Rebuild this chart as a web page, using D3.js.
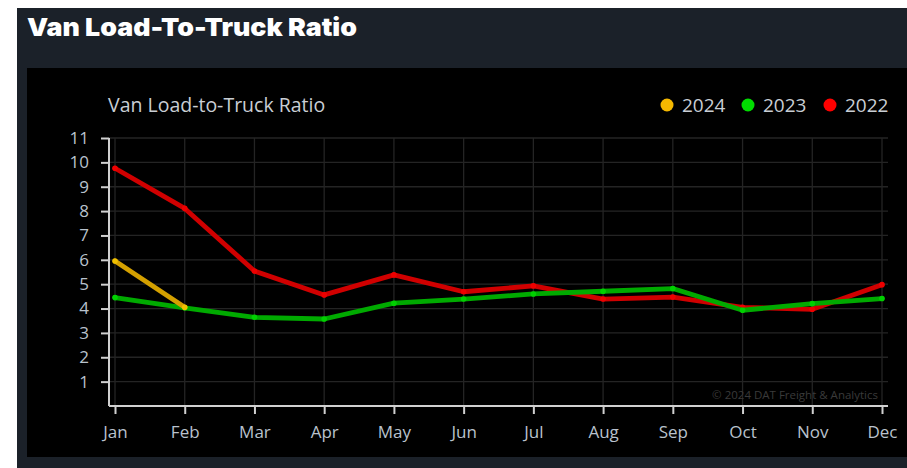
<!DOCTYPE html>
<html>
<head>
<meta charset="utf-8">
<script src="https://cdn.jsdelivr.net/npm/d3@7"></script>
<style>
  html, body { margin: 0; padding: 0; background: #ffffff; }
  svg { display: block; }
</style>
</head>
<body>
<svg id="chart" width="907" height="468"></svg>
<script>
const months = ["Jan","Feb","Mar","Apr","May","Jun","Jul","Aug","Sep","Oct","Nov","Dec"];
const values2024 = [5.95, 4.05];
const values2023 = [4.45, 4.03, 3.64, 3.57, 4.22, 4.39, 4.6, 4.71, 4.82, 3.93, 4.2, 4.41];
const values2022 = [9.76, 8.11, 5.54, 4.56, 5.38, 4.69, 4.93, 4.39, 4.47, 4.05, 3.97, 4.98];
const yTicks = [1,2,3,4,5,6,7,8,9,10,11];
const seriesNames = ["2024","2023","2022"];

const svg = d3.select("#chart");

// panels
svg.append("rect").attr("x",17).attr("y",8).attr("width",890).attr("height",460).attr("fill","#1b2129");
svg.append("rect").attr("x",27).attr("y",68).attr("width",880).attr("height",389).attr("fill","#000000");

svg.append("text").attr("x",27).attr("y",36)
  .attr("fill","#ffffff").attr("font-family","Inter, 'Liberation Sans', sans-serif")
  .attr("font-weight",900).attr("font-size",25)
  .attr("textLength",330).attr("lengthAdjust","spacingAndGlyphs")
  .text("Van Load-To-Truck Ratio");

const x = d3.scalePoint().domain(months).range([115, 882]);
const y = d3.scaleLinear().domain([0, 11]).range([406, 138]);

const g = svg.append("g");

// grid
g.selectAll(".hg").data(yTicks).enter().append("line")
  .attr("x1",109).attr("x2",888).attr("y1",d=>y(d)).attr("y2",d=>y(d))
  .attr("stroke","#242424").attr("stroke-width",1.3);
g.selectAll(".vg").data(months).enter().append("line")
  .attr("x1",d=>x(d)).attr("x2",d=>x(d)).attr("y1",y(11)).attr("y2",406)
  .attr("stroke","#242424").attr("stroke-width",1.3);

// axes
const yAxis = d3.axisLeft(y).tickValues(yTicks).tickSize(8).tickPadding(12);
const yG = svg.append("g").attr("transform","translate(109,0)").call(yAxis);
yG.select(".domain").attr("d", `M0,${y(11)}V406`);
const xAxis = d3.axisBottom(x).tickSize(8).tickPadding(12);
const xG = svg.append("g").attr("transform","translate(0,406)").call(xAxis);
xG.select(".domain").attr("d", "M109,0H888");
[yG, xG].forEach(a => {
  a.select(".domain").attr("stroke","#d0d0d0").attr("stroke-width",2);
  a.selectAll(".tick line").attr("stroke","#d0d0d0").attr("stroke-width",2);
  a.selectAll(".tick text").attr("fill","#b9c2cd")
    .attr("font-family","'Open Sans', 'Noto Sans', sans-serif").attr("font-size",17);
});

// copyright
svg.append("text").attr("x",878).attr("y",399).attr("text-anchor","end")
  .attr("fill","#3a3a3a").attr("font-family","'Open Sans', sans-serif").attr("font-size",11.5)
  .text("© 2024 DAT Freight & Analytics");

// chart title
svg.append("text").attr("x",108).attr("y",112)
  .attr("fill","#c9ced4").attr("font-family","'Open Sans', 'Noto Sans', sans-serif").attr("font-size",19.5)
  .text("Van Load-to-Truck Ratio");

// legend
const legendColors = ["#f5b800","#00dd00","#ff0000"];
const legendX = [667, 748, 830];
seriesNames.forEach((n,i) => {
  svg.append("circle").attr("cx",legendX[i]).attr("cy",105).attr("r",6.5).attr("fill",legendColors[i]);
  svg.append("text").attr("x",legendX[i]+15).attr("y",112)
    .attr("fill","#c9ced4").attr("font-family","'Open Sans', 'Noto Sans', sans-serif").attr("font-size",19)
    .text(n);
});

// lines
const series = [
  {vals: values2022, color: "#d00000", pt: "#ee0000"},
  {vals: values2023, color: "#00aa00", pt: "#00d000"},
  {vals: values2024, color: "#d4a000", pt: "#f0c000"}
];
const line = d3.line().x((d,i)=>x(months[i])).y(d=>y(d));
series.forEach(s => {
  svg.append("path").datum(s.vals).attr("d", line).attr("fill","none")
    .attr("stroke", s.color).attr("stroke-width",4.8).attr("stroke-linejoin","round").attr("stroke-linecap","round");
  svg.selectAll(null).data(s.vals).enter().append("circle")
    .attr("cx",(d,i)=>x(months[i])).attr("cy",d=>y(d)).attr("r",2.8).attr("fill",s.pt);
});
</script>
</body>
</html>
